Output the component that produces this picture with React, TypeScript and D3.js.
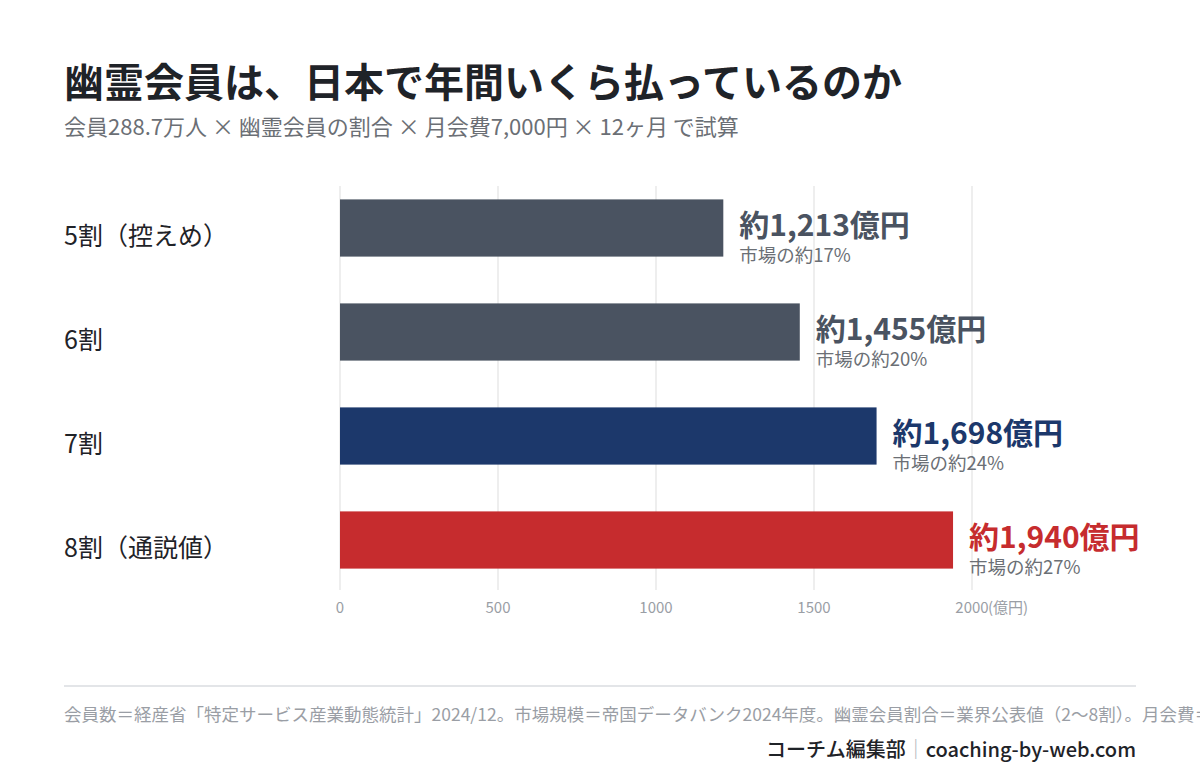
import React from "react";
import * as d3 from "d3";

const categories = ["5割（控えめ）", "6割", "7割", "8割（通説値）"];
const values = [1213, 1455, 1698, 1940];
const valueLabels = ["約1,213億円", "約1,455億円", "約1,698億円", "約1,940億円"];
const shareLabels = ["市場の約17%", "市場の約20%", "市場の約24%", "市場の約27%"];
const barColors = ["#4a5361", "#4a5361", "#1c386b", "#c62c2e"];
const ticks = [0, 500, 1000, 1500, 2000];

const W = 1200;
const H = 780;
const FONT = "'Noto Sans CJK JP', 'Noto Sans', sans-serif";

export default function App() {
  const x = d3.scaleLinear().domain([0, 2000]).range([340, 972]);
  const y = d3
    .scaleBand<string>()
    .domain(categories)
    .range([176, 592])
    .paddingInner(0.45)
    .paddingOuter(0.225);

  return (
    <svg
      width={W}
      height={H}
      style={{ position: "absolute", left: 0, top: 0, background: "#fff" }}
      fontFamily={FONT}
    >
      <rect x={0} y={0} width={W} height={H} fill="#fff" />
      <text x={64} y={97} fontSize={40} fontWeight={700} fill="#1f2328">
        幽霊会員は、日本で年間いくら払っているのか
      </text>
      <text x={64} y={135} fontSize={22} fill="#6b6f75">
        会員288.7万人 × 幽霊会員の割合 × 月会費7,000円 × 12ヶ月 で試算
      </text>

      {ticks.map((t) => (
        <line
          key={"g" + t}
          x1={x(t)}
          x2={x(t)}
          y1={186}
          y2={590}
          stroke="#eeeeee"
          strokeWidth={2}
        />
      ))}

      {categories.map((c, i) => {
        const by = y(c)!;
        const bh = y.bandwidth();
        const cy = by + bh / 2;
        return (
          <g key={c}>
            <rect
              x={x(0)}
              y={by}
              width={x(values[i]) - x(0)}
              height={bh}
              fill={barColors[i]}
            />
            <text x={64} y={cy + 17} fontSize={25} fontWeight={400} fill="#1f2328">
              {c}
            </text>
            <text
              x={x(values[i]) + 16}
              y={cy + 8}
              fontSize={30}
              fontWeight={700}
              fill={barColors[i]}
            >
              {valueLabels[i]}
            </text>
            <text x={x(values[i]) + 16} y={cy + 34} fontSize={18.5} fill="#6b6f75">
              {shareLabels[i]}
            </text>
          </g>
        );
      })}

      {ticks.map((t) => (
        <text
          key={"t" + t}
          x={x(t)}
          y={613}
          fontSize={15}
          fill="#9a9ea5"
          textAnchor="middle"
        >
          {t}
        </text>
      ))}
      <text x={x(2000) + 16} y={613} fontSize={15} fill="#9a9ea5">
        (億円)
      </text>

      <line x1={64} x2={1136} y1={686} y2={686} stroke="#e3e5e8" strokeWidth={2} />
      <text x={64} y={721} fontSize={17.5} fill="#9a9ea5">
        会員数＝経産省「特定サービス産業動態統計」2024/12。市場規模＝帝国データバンク2024年度。幽霊会員割合＝業界公表値（2〜8割）。月会費＝業界平均の推定値。
      </text>
      <text x={1136} y={757} fontSize={20} fontWeight={500} fill="#1f2328" textAnchor="end">
        コーチム編集部
        <tspan fill="#b0b4ba" fontWeight={400}>｜</tspan>
        coaching-by-web.com
      </text>
    </svg>
  );
}
